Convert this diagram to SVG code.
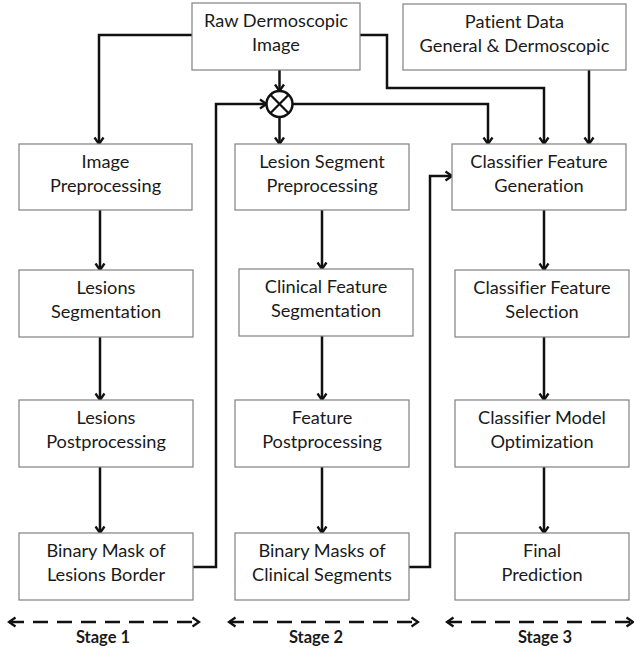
<svg xmlns="http://www.w3.org/2000/svg" width="634" height="652" viewBox="0 0 634 652">
  <style>
    .box { fill: #ffffff; stroke: #808080; stroke-width: 1.2; }
    .lbl { font-family: Lato, "Liberation Sans", sans-serif; font-size: 18.2px; fill: #1a1a1a; text-anchor: middle; font-variant-ligatures: none; }
    .stage { font-family: Lato, "Liberation Sans", sans-serif; font-size: 16.5px; font-weight: bold; fill: #1a1a1a; text-anchor: middle; }
    .wire { fill: none; stroke: #111111; stroke-width: 2.5; }
    .span { fill: none; stroke: #111111; stroke-width: 2.5; stroke-dasharray: 15 9; }
  </style>
  <defs>
    <marker id="ah" markerWidth="12" markerHeight="12" refX="10" refY="6" orient="auto-start-reverse" markerUnits="userSpaceOnUse">
      <path d="M3.5,1.5 L10,6 L3.5,10.5" fill="none" stroke="#111111" stroke-width="2.3"/>
    </marker>
  </defs>

  <!-- connectors -->
  <g id="connectors">
    <path class="wire" d="M192,35 H99 V144" marker-end="url(#ah)"/>
    <path class="wire" d="M360,35 H387 V88 H544 V144" marker-end="url(#ah)"/>
    <path class="wire" d="M589,70 V144" marker-end="url(#ah)"/>
    <path class="wire" d="M279.5,70 V91" marker-end="url(#ah)"/>
    <path class="wire" d="M279.5,117 V144" marker-end="url(#ah)"/>
    <path class="wire" d="M292.5,104 H488 V144" marker-end="url(#ah)"/>
    <path class="wire" d="M193,567 H216 V104 H266.5" marker-end="url(#ah)"/>
    <path class="wire" d="M409,567 H430 V176 H452" marker-end="url(#ah)"/>
    <!-- stage 1 column -->
    <path class="wire" d="M100,210 V270" marker-end="url(#ah)"/>
    <path class="wire" d="M100,337 V400" marker-end="url(#ah)"/>
    <path class="wire" d="M100,467 V533" marker-end="url(#ah)"/>
    <!-- stage 2 column -->
    <path class="wire" d="M322,210 V269" marker-end="url(#ah)"/>
    <path class="wire" d="M322,336 V400" marker-end="url(#ah)"/>
    <path class="wire" d="M322,467 V533" marker-end="url(#ah)"/>
    <!-- stage 3 column -->
    <path class="wire" d="M544,210 V270" marker-end="url(#ah)"/>
    <path class="wire" d="M544,337 V400" marker-end="url(#ah)"/>
    <path class="wire" d="M544,467 V533" marker-end="url(#ah)"/>
  </g>

  <!-- multiplier junction -->
  <g id="junction">
    <circle cx="279.5" cy="104" r="13" fill="#ffffff" stroke="#111111" stroke-width="2.5"/>
    <path d="M270.3,94.8 L288.7,113.2 M288.7,94.8 L270.3,113.2" stroke="#111111" stroke-width="2.3"/>
  </g>

  <g id="raw-image">
    <rect class="box" x="192" y="3" width="168" height="67"/>
    <text class="lbl" x="276" y="27">Raw Dermoscopic</text>
    <text class="lbl" x="276" y="51">Image</text>
  </g>
  <g id="patient-data">
    <rect class="box" x="403" y="4" width="223" height="66"/>
    <text class="lbl" x="514.5" y="27.5">Patient Data</text>
    <text class="lbl" x="514.5" y="51.5">General &amp; Dermoscopic</text>
  </g>

  <!-- stage 1 -->
  <g id="image-preprocessing">
    <rect class="box" x="19" y="144" width="173" height="66"/>
    <text class="lbl" x="105.5" y="167.5">Image</text>
    <text class="lbl" x="105.5" y="191.5">Preprocessing</text>
  </g>
  <g id="lesions-segmentation">
    <rect class="box" x="19" y="270" width="174" height="67"/>
    <text class="lbl" x="106" y="294">Lesions</text>
    <text class="lbl" x="106" y="318">Segmentation</text>
  </g>
  <g id="lesions-postprocessing">
    <rect class="box" x="19" y="400" width="174" height="67"/>
    <text class="lbl" x="106" y="424">Lesions</text>
    <text class="lbl" x="106" y="448">Postprocessing</text>
  </g>
  <g id="binary-mask-border">
    <rect class="box" x="19" y="533" width="174" height="67"/>
    <text class="lbl" x="106" y="557">Binary Mask of</text>
    <text class="lbl" x="106" y="581">Lesions Border</text>
  </g>

  <!-- stage 2 -->
  <g id="lesion-segment-preprocessing">
    <rect class="box" x="235" y="144" width="174" height="66"/>
    <text class="lbl" x="322" y="167.5">Lesion Segment</text>
    <text class="lbl" x="322" y="191.5">Preprocessing</text>
  </g>
  <g id="clinical-feature-segmentation">
    <rect class="box" x="239" y="269" width="174" height="67"/>
    <text class="lbl" x="326" y="293">Clinical Feature</text>
    <text class="lbl" x="326" y="317">Segmentation</text>
  </g>
  <g id="feature-postprocessing">
    <rect class="box" x="235" y="400" width="174" height="67"/>
    <text class="lbl" x="322" y="424">Feature</text>
    <text class="lbl" x="322" y="448">Postprocessing</text>
  </g>
  <g id="binary-masks-clinical">
    <rect class="box" x="235" y="533" width="174" height="67"/>
    <text class="lbl" x="322" y="557">Binary Masks of</text>
    <text class="lbl" x="322" y="581">Clinical Segments</text>
  </g>

  <!-- stage 3 -->
  <g id="feature-generation">
    <rect class="box" x="452" y="144" width="174" height="66"/>
    <text class="lbl" x="539" y="167.5">Classifier Feature</text>
    <text class="lbl" x="539" y="191.5">Generation</text>
  </g>
  <g id="feature-selection">
    <rect class="box" x="455" y="270" width="174" height="67"/>
    <text class="lbl" x="542" y="294">Classifier Feature</text>
    <text class="lbl" x="542" y="318">Selection</text>
  </g>
  <g id="model-optimization">
    <rect class="box" x="455" y="400" width="174" height="67"/>
    <text class="lbl" x="542" y="424">Classifier Model</text>
    <text class="lbl" x="542" y="448">Optimization</text>
  </g>
  <g id="final-prediction">
    <rect class="box" x="455" y="533" width="174" height="67"/>
    <text class="lbl" x="542" y="557">Final</text>
    <text class="lbl" x="542" y="581">Prediction</text>
  </g>

  <!-- stage spans -->
  <g id="stages">
    <path class="span" d="M9,622 H199" marker-start="url(#ah)" marker-end="url(#ah)"/>
    <path class="span" d="M229,622 H418" marker-start="url(#ah)" marker-end="url(#ah)"/>
    <path class="span" d="M447,622 H633" marker-start="url(#ah)" marker-end="url(#ah)"/>
    <text class="stage" x="103" y="643">Stage 1</text>
    <text class="stage" x="316" y="643">Stage 2</text>
    <text class="stage" x="545" y="643">Stage 3</text>
  </g>
</svg>
